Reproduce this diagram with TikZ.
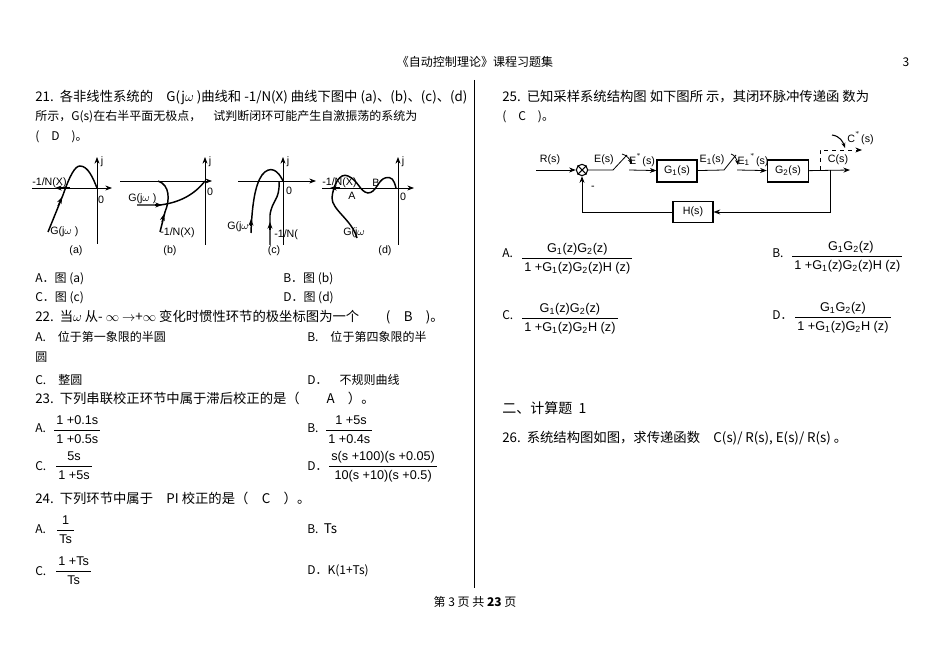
\documentclass[tikz,border=0pt]{standalone}
\usepackage{fontspec}
\setmainfont{Liberation Sans}
\newfontfamily\cjk{Noto Sans CJK SC}
\usetikzlibrary{arrows.meta}
\newcommand{\fr}[2]{\renewcommand{\arraystretch}{1.25}\begin{tabular}{@{\,}c@{\,}}#1\\\hline #2\end{tabular}}
\begin{document}
\begin{tikzpicture}[x=0.02635cm,y=-0.02635cm,
  t/.style={anchor=west,inner sep=0,font=\cjk\fontsize{9}{11}\selectfont},
  s/.style={inner sep=0,font=\fontsize{8}{10}\selectfont},
  f/.style={inner sep=0,anchor=west,font=\fontsize{9.5}{11}\selectfont},
  ln/.style={line width=0.6pt},
  cv/.style={line width=1.1pt},
  ar/.style={-{Stealth[length=5pt]}},
  blk/.style={draw,line width=0.8pt,inner sep=0,font=\fontsize{8}{10}\selectfont}]
\useasboundingbox (0,0) rectangle (950,672);
% header/footer
\node[t,anchor=center] (hd) at (475,62) {《自动控制理论》课程习题集};
\node[t,anchor=center] (pn) at (906,62) {3};
\node[t,anchor=center] (ft) at (475,602) {第 3 页 共 \textbf{23} 页};
\draw[ln] (474,80) -- (474,588);
% Q21
\node[t] (q21) at (35,97) {\fontsize{10}{11}\selectfont 21.\ \ \cjk 各非线性系统的\quad G(j$\omega$ )曲线和 -1/N(X) 曲线下图中 (a)、(b)、(c)、(d)};
\node[t] (q21b) at (35,117) {所示，G(s)在右半平面无极点，\quad 试判断闭环可能产生自激振荡的系统为};
\node[t] (q21c) at (35,137) {(\quad D\quad )。};
% plot a
\draw[ln,ar] (32,188) -- (112,188);
\draw[ln,ar] (97,244) -- (97,157);
\draw[cv] (48,232) -- (63,195) .. controls (70,175) and (75,166) .. (80,166) .. controls (88,166) and (93,178) .. (97,188);
\draw[-{Stealth[length=5pt]},line width=0.9pt] (58,206) -- (62,197);
\draw[-{Stealth[length=5pt]},line width=0.9pt] (70,188) -- (55,188);
\node[s,anchor=west] (la1) at (32,183) {-1/N(X)};
\node[s] (z1) at (101,200) {0};
\node[s] (j1) at (102,162) {j};
\node[s,anchor=west] (g1) at (50,232) {G(j$\omega$ )};
\node[s] (ca) at (76,251) {(a)};
% plot b
\draw[ln,ar] (120,181) -- (212,181);
\draw[ln,ar] (205,245) -- (205,157);
\draw[cv] (137,205) -- (160,205) .. controls (185,202) and (198,190) .. (205,181);
\draw[cv] (160,232) -- (165,212) .. controls (170,200) and (170,185) .. (158,181);
\draw[-{Stealth[length=5pt]},line width=0.9pt] (162,222) -- (164,214);
\draw[-{Stealth[length=5pt]},line width=0.9pt] (155,205) -- (162,205);
\node[s,anchor=west] (g2) at (128,199) {G(j$\omega$ )};
\node[s,anchor=west] (l2) at (160,233) {-1/N(X)};
\node[s] (z2) at (210,192) {0};
\node[s] (j2) at (210,162) {j};
\node[s] (cb) at (170,251) {(b)};
% plot c
\draw[ln,ar] (238,181) -- (316,181);
\draw[ln,ar] (283,245) -- (283,157);
\draw[cv] (251,233) .. controls (252,205) and (255,185) .. (262,175) .. controls (270,165) and (278,170) .. (283,181);
\draw[cv] (270,245) -- (270,215) .. controls (272,200) and (280,200) .. (279,182);
\draw[-{Stealth[length=5pt]},line width=0.9pt] (251,226) -- (251,219);
\draw[-{Stealth[length=5pt]},line width=0.9pt] (270,230) -- (270,222);
\node[s,anchor=west] (g3) at (227,227) {G(j$\omega$};
\node[s,anchor=west] (l3) at (274,235) {-1/N(};
\node[s] (z3) at (289,191) {0};
\node[s] (j3) at (288,162) {j};
\node[s] (cc) at (274,251) {(c)};
% plot d
\draw[ln,ar] (322,188) -- (414,188);
\draw[ln,ar] (398,245) -- (398,157);
\draw[cv] (357,238) .. controls (352,220) and (332,210) .. (332,198) .. controls (333,185) and (340,172) .. (348,176) .. controls (358,180) and (360,192) .. (368,193) .. controls (376,193) and (378,180) .. (385,178) .. controls (392,176) and (394,180) .. (396,188);
\draw[-{Stealth[length=5pt]},line width=0.9pt] (340,188) -- (330,188);
\node[s,anchor=west] (l4) at (322,183) {-1/N(X)};
\node[s] (A4) at (352,196) {A};
\node[s] (B4) at (376,183) {B};
\node[s] (z4) at (403,197) {0};
\node[s] (j4) at (403,162) {j};
\node[s,anchor=west] (g4) at (343,233) {G(j$\omega$};
\node[s] (cd) at (385,251) {(d)};
\node[t] (a21) at (35,279) {A．图 (a)};
\node[t] (b21) at (283,279) {B．图 (b)};
\node[t] (c21) at (35,298) {C．图 (c)};
\node[t] (d21) at (283,298) {D．图 (d)};
% Q22
\node[t] (q22) at (35,317) {\fontsize{10}{11}\selectfont 22.\ \ \cjk 当$\omega$\ 从- $\infty$\ $\rightarrow$+$\infty$\ 变化时惯性环节的极坐标图为一个\qquad (\quad B\quad )。};
\node[t] (a22) at (35,337) {A.\quad 位于第一象限的半圆};
\node[t] (b22) at (307,337) {B.\quad 位于第四象限的半};
\node[t] (a22b) at (35,357) {圆};
\node[t] (c22) at (35,380) {C.\quad 整圆};
\node[t] (d22) at (307,380) {D．\quad 不规则曲线};
% Q23
\node[t] (q23) at (35,398) {\fontsize{10}{11}\selectfont 23.\ \ \cjk 下列串联校正环节中属于滞后校正的是（\qquad A\quad ）。};
\node[t] (a23) at (35,428) {A.};
\node[f] (fa23) at (54,430) {\fr{1 +0.1s}{1 +0.5s}};
\node[t] (b23) at (307,428) {B.};
\node[f] (fb23) at (326,430) {\fr{\ 1 +5s}{1 +0.4s}};
\node[t] (c23) at (35,466) {C.};
\node[f] (fc23) at (56,466) {\fr{5s}{1 +5s}};
\node[t] (d23) at (307,466) {D．};
\node[f] (fd23) at (329,466) {\fr{s(s +100)(s +0.05)}{10(s +10)(s +0.5)}};
% Q24
\node[t] (q24) at (35,498) {\fontsize{10}{11}\selectfont 24.\ \ \cjk 下列环节中属于\quad PI 校正的是（\quad C\quad ）。};
\node[t] (a24) at (35,529) {A.};
\node[f] (fa24) at (57,530) {\fr{1\quad}{Ts}};
\node[t] (b24) at (307,529) {B.\ \ \fontsize{10}{11}\selectfont Ts};
\node[t] (c24) at (35,571) {C.};
\node[f] (fc24) at (56,571) {\fr{1 +Ts}{Ts}};
\node[t] (d24) at (307,571) {D．K(1+Ts)};
% Q25
\node[t] (q25) at (502,97) {\fontsize{10}{11}\selectfont 25.\ \ \cjk 已知采样系统结构图\ 如下图所\ 示，其闭环脉冲传递函\ 数为};
\node[t] (q25b) at (502,117) {(\quad C\quad )。};
% block diagram
\node[draw,circle,line width=0.8pt,minimum size=8.5pt,inner sep=0] (sum) at (582,170) {};
\draw[line width=0.8pt] (sum.north west) -- (sum.south east) (sum.north east) -- (sum.south west);
\coordinate (in) at (536,170);
\draw[ln,ar] (in) -- (sum);
\node[s] (Rs) at (550,160) {R(s)};
\coordinate (sw1a) at (613,170);
\coordinate (sw1b) at (627,155);
\coordinate (sw1c) at (629,170);
\draw[ln] (sum) -- (sw1a) -- (sw1b);
\draw[-{Stealth[length=4pt]},line width=0.6pt] (622,154) .. controls (627,155) and (630,160) .. (632,164);
\node[blk,minimum width=30pt,minimum height=16.5pt] (G1) at (677,171) {G\textsubscript{1}(s)};
\draw[ln,ar] (sw1c) -- (G1);
\node[s] (Es) at (604,160) {E(s)};
\node[s] (Est) at (642,160) {E$^{^{*}}$(s)};
\coordinate (sw2a) at (724,170);
\coordinate (sw2b) at (736,155);
\coordinate (sw2c) at (737,170);
\draw[ln] (G1) -- (sw2a) -- (sw2b);
\draw[-{Stealth[length=4pt]},line width=0.6pt] (731,154) .. controls (735,155) and (737,160) .. (738,165);
\node[blk,minimum width=31pt,minimum height=16.5pt] (G2) at (788,171) {G\textsubscript{2}(s)};
\draw[ln,ar] (sw2c) -- (G2);
\node[s] (E1) at (712,160) {E\textsubscript{1}(s)};
\node[s] (E1t) at (753,160) {E\textsubscript{1}$^{^{*}}$(s)};
\coordinate (out) at (850,170);
\draw[ln,ar] (G2) -- (out);
\node[s] (Cs) at (838,160) {C(s)};
\coordinate (tap) at (830,170);
\coordinate (dt) at (820,170);
\coordinate (dout) at (862,150);
\draw[ln,dashed,ar] (dt) -- (820,150) -- (838,150) -- (dout);
\draw[-{Stealth[length=4pt]},line width=0.8pt] (832,135) .. controls (840,136) and (843,142) .. (845,148);
\node[s,anchor=west] (Cst) at (847,138) {C$^{^{*}}$(s)};
\node[blk,minimum width=30pt,minimum height=16pt] (H) at (693,212) {H(s)};
\draw[ln,ar] (tap) -- (830,212) -- (H);
\draw[ln,ar] (H) -- (582,212) -- (sum);
\node[s] (mn) at (593,188) {-};
% options 25
\node[t] (a25) at (502,253) {A.};
\node[f] (fa25) at (522,258) {\fr{G\textsubscript{1}(z)G\textsubscript{2}(z)}{1 +G\textsubscript{1}(z)G\textsubscript{2}(z)H (z)}};
\node[t] (b25) at (772,253) {B.};
\node[f] (fb25) at (792,256) {\fr{\ \ G\textsubscript{1}G\textsubscript{2}(z)\qquad}{1 +G\textsubscript{1}(z)G\textsubscript{2}(z)H (z)}};
\node[t] (c25) at (502,315) {C.};
\node[f] (fc25) at (522,318) {\fr{G\textsubscript{1}(z)G\textsubscript{2}(z)}{1 +G\textsubscript{1}(z)G\textsubscript{2}H (z)}};
\node[t] (d25) at (772,315) {D．};
\node[f] (fd25) at (795,317) {\fr{G\textsubscript{1}G\textsubscript{2}(z)}{1 +G\textsubscript{1}(z)G\textsubscript{2}H (z)}};
\node[t] (sec) at (502,408) {\fontsize{10.5}{12}\selectfont 二、计算题\ \ 1};
\node[t] (q26) at (502,438) {\fontsize{10}{11}\selectfont 26.\ \ \cjk 系统结构图如图，求传递函数\quad C(s)/ R(s), E(s)/ R(s)\ 。};
\end{tikzpicture}
\end{document}
